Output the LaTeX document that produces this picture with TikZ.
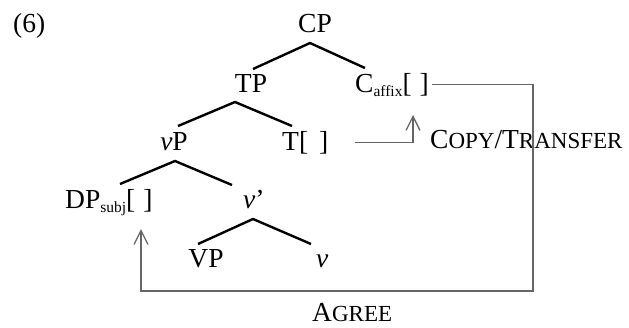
\documentclass[tikz,border=0pt]{standalone}
\usepackage{fontspec}
\setmainfont{Liberation Serif}
\usetikzlibrary{arrows.meta}
\newcommand\mysc[1]{{\fontsize{23}{25}\selectfont #1}}
\newcommand\mysub[1]{\raisebox{-4pt}{\fontsize{15.5}{16}\selectfont #1}}
\begin{document}
\begin{tikzpicture}[x=1pt,y=-1pt,
  lbl/.style={inner sep=0pt, font=\fontsize{27.5}{30}\selectfont},
  branch/.style={line width=2.4pt, draw=black},
  conn/.style={line width=1.3pt, draw=black!60},
  barb/.style={-{Straight Barb[length=14pt,width=14pt,line width=1.3pt]}}
]
\useasboundingbox (0,0) rectangle (629,327);

% labels
\node[lbl, anchor=base west] (ex) at (13,32) {(6)};
\node[lbl, anchor=base] (CP) at (315,32) {CP};
\node[lbl, anchor=base] (TP) at (251,92) {TP};
\node[lbl, anchor=base west] (Caff) at (355,92) {C\mysub{affix}[\hspace{8pt}]};
\node[lbl, anchor=base] (vP) at (174,150) {\textit{v}P};
\node[lbl, anchor=base west] (T) at (282,150) {T[\hspace{11pt}]};
\node[lbl, anchor=base west] (DP) at (65,208) {DP\mysub{subj}[\hspace{8pt}]};
\node[lbl, anchor=base west] (vbar) at (243,208) {\textit{v}’};
\node[lbl, anchor=base] (VP) at (206,267) {VP};
\node[lbl, anchor=base west] (v) at (316,267) {\textit{v}};
\node[lbl, anchor=base west] (copy) at (430,148) {C\mysc{OPY}/T\mysc{RANSFER}};
\node[lbl, anchor=base west] (agree) at (312,321) {A\mysc{GREE}};

% branch points
\coordinate (cpA) at (310,43);  \coordinate (cpL) at (253,69);  \coordinate (cpR) at (365,68);
\coordinate (tpA) at (235,102); \coordinate (tpL) at (178,126); \coordinate (tpR) at (292,126);
\coordinate (vpA) at (175,161); \coordinate (vpL) at (120,184); \coordinate (vpR) at (232,185);
\coordinate (vbA) at (253,219); \coordinate (vbL) at (198,244); \coordinate (vbR) at (311,244);

\draw[branch] (cpL) -- (cpA) -- (cpR);
\draw[branch] (tpL) -- (tpA) -- (tpR);
\draw[branch] (vpL) -- (vpA) -- (vpR);
\draw[branch] (vbL) -- (vbA) -- (vbR);

% connectors
\coordinate (copyTip) at (413,115);
\coordinate (agreeCorner) at (533,291);
\coordinate (agreeTip) at (141,229);
\draw[conn,barb] ([xshift=26pt]T.east) -| (copyTip);
\draw[conn,barb] ([xshift=3pt]Caff.east) -| (agreeCorner) -| (agreeTip);
\end{tikzpicture}
\end{document}
